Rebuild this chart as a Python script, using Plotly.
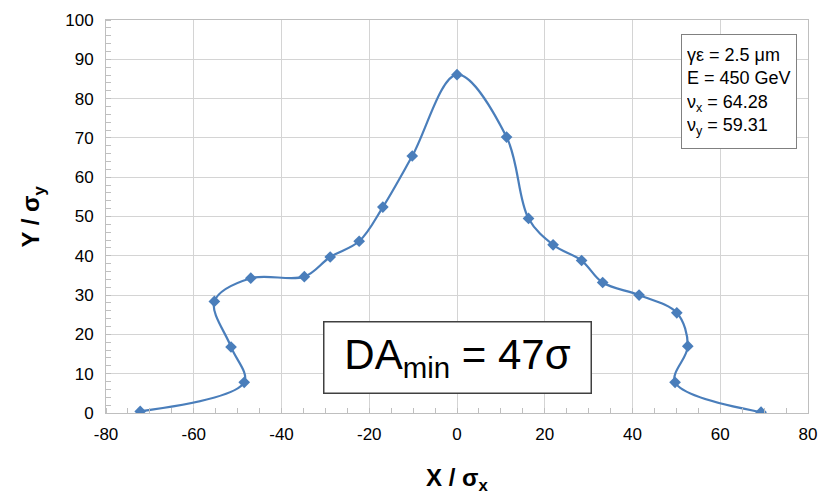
import plotly.graph_objects as go

# Dynamic aperture boundary, in units of beam sigma
x_sigma = [-72.2, -48.5, -51.5, -55.3, -47.0, -34.8, -28.9, -22.3, -16.9, -10.2,
           0.0, 11.3, 16.3, 21.9, 28.4, 33.2, 41.5, 50.1, 52.6, 49.7, 69.3]
y_sigma = [0.4, 7.8, 16.8, 28.4, 34.3, 34.7, 39.7, 43.7, 52.4, 65.4,
           86.1, 70.2, 49.5, 42.8, 38.8, 33.2, 30.0, 25.5, 17.0, 7.8, 0.2]

x_ticks = [-80, -60, -40, -20, 0, 20, 40, 60, 80]
y_ticks = [0, 10, 20, 30, 40, 50, 60, 70, 80, 90, 100]

params = ["γε = 2.5 μm", "E = 450 GeV", "ν<sub>x</sub> = 64.28", "ν<sub>y</sub> = 59.31"]
da_label = "DA<sub>min</sub> = 47σ"

BLUE = "#4A7EBB"
GRID = "#D4D4D4"
AXIS = "#BFBFBF"
FONT = "Liberation Sans"

fig = go.Figure()
fig.add_trace(go.Scatter(
    x=x_sigma, y=y_sigma,
    mode="lines+markers",
    line=dict(color=BLUE, width=2.2, shape="spline", smoothing=1.0),
    marker=dict(symbol="diamond", size=9, color=BLUE),
    showlegend=False,
    hoverinfo="x+y",
))

axis_common = dict(
    showline=True, mirror=True, linecolor=AXIS, linewidth=1,
    showgrid=True, gridcolor=GRID, gridwidth=1,
    zeroline=False,
    ticks="", tickfont=dict(family=FONT, size=17, color="#000000"),
)

fig.update_xaxes(
    range=[-80, 80], tickvals=x_ticks, ticktext=[str(v) for v in x_ticks],
    minor=dict(dtick=5, ticks="inside", ticklen=5, tickcolor=AXIS, showgrid=False),
    ticklabelstandoff=6,
    **axis_common,
)
fig.update_yaxes(
    range=[0, 100], tickvals=y_ticks, ticktext=[str(v) for v in y_ticks],
    minor=dict(dtick=2, ticks="inside", ticklen=5, tickcolor=AXIS, showgrid=False),
    ticklabelstandoff=8,
    **axis_common,
)

# Axis titles
fig.add_annotation(
    text="<b>X / σ<sub>x</sub></b>", xref="paper", yref="paper",
    x=0.5, y=-0.168, xanchor="center", yanchor="middle", showarrow=False,
    font=dict(family=FONT, size=24, color="#000000"),
)
fig.add_annotation(
    text="<b>Y / σ<sub>y</sub></b>", xref="paper", yref="paper",
    x=-0.104, y=0.5, xanchor="center", yanchor="middle", showarrow=False,
    textangle=-90, font=dict(family=FONT, size=24, color="#000000"),
)

# Beam parameter box
fig.add_annotation(
    text="<br>".join(params), xref="paper", yref="paper",
    x=0.985, y=0.964, xanchor="right", yanchor="top", align="left",
    width=104, height=103, valign="middle",
    showarrow=False, bordercolor="#808080", borderwidth=1, borderpad=5,
    bgcolor="#FFFFFF", font=dict(family=FONT, size=18, color="#000000"),
)

# Minimum dynamic aperture label
fig.add_annotation(
    text=da_label, xref="paper", yref="paper",
    x=0.5, y=0.14, xanchor="center", yanchor="middle",
    width=242, height=46, valign="middle",
    showarrow=False, bordercolor="#404040", borderwidth=1.5, borderpad=12,
    bgcolor="#FFFFFF", font=dict(family=FONT, size=42, color="#000000"),
)

fig.update_layout(
    width=828, height=495,
    margin=dict(l=106, r=11, t=19, b=82),
    paper_bgcolor="#FFFFFF", plot_bgcolor="#FFFFFF",
    font=dict(family=FONT),
)

fig.write_html("out.html")
